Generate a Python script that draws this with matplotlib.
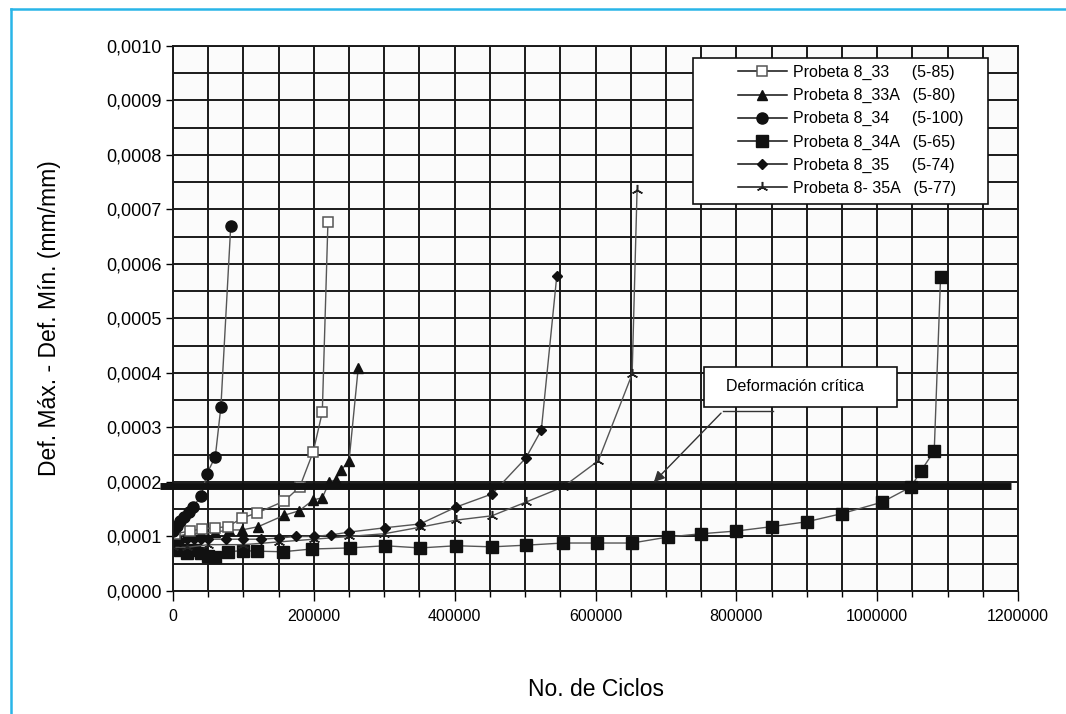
import matplotlib
matplotlib.use('Agg')
import matplotlib.pyplot as plt
from matplotlib import font_manager
from matplotlib.ticker import MultipleLocator, FuncFormatter
from matplotlib.lines import Line2D
from matplotlib.patches import Rectangle

# Ciclos y deformacion (Def. max - Def. min) de cada probeta
x_8_33 = [3000, 24000, 41000, 60000, 78000, 98000, 119000, 158000, 180000, 199000, 212000, 220000]
y_8_33 = [0.000105, 0.000110, 0.000114, 0.000116, 0.000118, 0.000134, 0.000143, 0.000165, 0.000191,
          0.000255, 0.000328, 0.000677]

x_8_33A = [3000, 20000, 40000, 60000, 80000, 98000, 121000, 158000, 179000, 199000, 212000,
           222000, 231000, 239000, 250000, 263000]
y_8_33A = [0.000100, 0.000104, 0.000106, 0.000108, 0.000112, 0.000112, 0.000118, 0.000139, 0.000147,
           0.000167, 0.000171, 0.000200, 0.000204, 0.000222, 0.000239, 0.000409]

x_8_34 = [0, 2000, 5000, 10000, 16000, 22000, 28000, 40000, 48000, 60000, 68000, 82000]
y_8_34 = [0.000110, 0.000115, 0.000120, 0.000128, 0.000135, 0.000145, 0.000154, 0.000174, 0.000215,
          0.000246, 0.000338, 0.000670]

x_8_34A = [0, 10000, 20000, 30000, 40000, 50000, 60000, 78000, 99000, 119000, 156000, 197000,
           251000, 301000, 351000, 402000, 453000, 501000, 554000, 602000, 652000, 703000,
           750000, 800000, 850000, 900000, 950000, 1007000, 1048000, 1062000, 1081000, 1090000]
y_8_34A = [0.000080, 0.000075, 0.000070, 0.000075, 0.000070, 0.000065, 0.000062, 0.000072, 0.000074,
           0.000073, 0.000072, 0.000077, 0.000079, 0.000083, 0.000079, 0.000083, 0.000081, 0.000084,
           0.000088, 0.000088, 0.000088, 0.000099, 0.000105, 0.000110, 0.000118, 0.000127,
           0.000142, 0.000163, 0.000191, 0.000220, 0.000257, 0.000576]

x_8_35 = [0, 10000, 20000, 30000, 40000, 50000, 75000, 100000, 125000, 150000, 175000, 200000,
          225000, 250000, 301000, 351000, 402000, 453000, 501000, 523000, 545000]
y_8_35 = [0.000090, 0.000092, 0.000095, 0.000095, 0.000095, 0.000095, 0.000095, 0.000095, 0.000095,
          0.000097, 0.000100, 0.000100, 0.000103, 0.000108, 0.000116, 0.000123, 0.000154, 0.000178,
          0.000244, 0.000295, 0.000578]

x_8_35A = [0, 20000, 50000, 100000, 150000, 200000, 250000, 300000, 351000, 402000, 453000,
           501000, 554000, 604000, 652000, 659000]
y_8_35A = [0.000080, 0.000080, 0.000085, 0.000085, 0.000090, 0.000095, 0.000100, 0.000105, 0.000117,
           0.000130, 0.000138, 0.000163, 0.000191, 0.000239, 0.000398, 0.000736]

labels = ['Probeta 8_33     (5-85)', 'Probeta 8_33A   (5-80)', 'Probeta 8_34     (5-100)',
          'Probeta 8_34A   (5-65)', 'Probeta 8_35     (5-74)', 'Probeta 8- 35A   (5-77)']

critical_def = 0.000192

# estilo de marcador de cada probeta, en el orden de labels
marker_styles = [
    dict(marker='s', markersize=7, markerfacecolor='white', markeredgecolor='#555555',
         markeredgewidth=1.1),
    dict(marker='^', markersize=7.5, markerfacecolor='#111111', markeredgecolor='#111111'),
    dict(marker='o', markersize=8, markerfacecolor='#111111', markeredgecolor='#111111'),
    dict(marker='s', markersize=9, markerfacecolor='#111111', markeredgecolor='#111111'),
    dict(marker='D', markersize=5, markerfacecolor='#111111', markeredgecolor='#111111'),
    dict(marker=(3, 2, 0), markersize=8, markeredgewidth=1.1, markeredgecolor='#222222'),
]


def pick_font():
    names = {f.name for f in font_manager.fontManager.ttflist}
    return 'Liberation Sans' if 'Liberation Sans' in names else 'DejaVu Sans'


def plot_chart():
    plt.rcParams['font.family'] = [pick_font(), 'DejaVu Sans']

    fig = plt.figure(figsize=(10.66, 7.14), dpi=100)
    ax = fig.add_axes([0.1623, 0.1723, 0.7927, 0.7633])
    ax.set_facecolor('#fbfbfb')

    series = [(x_8_33, y_8_33), (x_8_33A, y_8_33A), (x_8_34, y_8_34),
              (x_8_34A, y_8_34A), (x_8_35, y_8_35), (x_8_35A, y_8_35A)]
    draw_order = [3, 5, 4, 1, 0, 2]
    for i in draw_order:
        xs, ys = series[i]
        ax.plot(xs, ys, color='#555555', linewidth=1.0, **marker_styles[i])

    # Deformacion critica
    ax.plot([-18000, 1190000], [critical_def, critical_def], color='#111111',
            linewidth=5, clip_on=False, zorder=4, solid_capstyle='butt')

    ax.set_xlim(0, 1200000)
    ax.set_ylim(0, 0.0010)
    ax.xaxis.set_major_locator(MultipleLocator(200000))
    ax.xaxis.set_minor_locator(MultipleLocator(50000))
    ax.yaxis.set_major_locator(MultipleLocator(0.0001))
    ax.yaxis.set_minor_locator(MultipleLocator(0.00005))
    ax.yaxis.set_major_formatter(FuncFormatter(lambda v, p: f'{v:.4f}'.replace('.', ',')))
    ax.xaxis.set_major_formatter(FuncFormatter(lambda v, p: f'{v:.0f}'))
    ax.grid(True, which='both', color='#1a1a1a', linewidth=1.4)
    ax.set_axisbelow(True)
    ax.tick_params(axis='x', which='major', length=7, width=1, pad=6, labelsize=11.5)
    ax.tick_params(axis='x', which='minor', length=4, width=1)
    ax.tick_params(axis='y', which='major', length=5, width=1, pad=3, labelsize=13)
    ax.tick_params(axis='y', which='minor', length=0)
    for sp in ax.spines.values():
        sp.set_color('#1a1a1a')
        sp.set_linewidth(1.4)

    ax.set_xlabel('No. de Ciclos', fontsize=16.5, labelpad=39)
    ax.set_ylabel('Def. Máx. - Def. Mín. (mm/mm)', fontsize=16.5, labelpad=33)

    # Leyenda: marco propio y entradas sin marco
    ax.add_patch(Rectangle((0.6154, 0.7101), 0.3491, 0.2679, transform=ax.transAxes,
                           facecolor='white', edgecolor='#111111', linewidth=1.2,
                           zorder=6, clip_on=False))
    proxies = [Line2D([], [], color='#111111', linewidth=1.1, **st) for st in marker_styles]
    leg = ax.legend(proxies, labels, loc='upper left', bbox_to_anchor=(0.6686, 0.965),
                    borderaxespad=0, borderpad=0, fontsize=11.5, frameon=False,
                    handlelength=3.06, labelspacing=0.5, handletextpad=0.37)
    leg.set_zorder(7)

    # Caja de la anotacion
    ax.add_patch(Rectangle((754000, 0.000338), 274000, 0.000073, facecolor='white',
                           edgecolor='#111111', linewidth=1.2, zorder=6))
    ax.text(883000, 0.000376, 'Deformación crítica', fontsize=11.5, ha='center',
            va='center', zorder=7)
    ax.plot([781000, 852000], [0.000330, 0.000330], color='#333333', linewidth=1, zorder=5)
    ax.annotate('', xy=(680000, 0.000196), xytext=(781000, 0.000330), zorder=5,
                arrowprops=dict(arrowstyle='-|>', color='#333333', linewidth=1,
                                mutation_scale=16))

    # Marco azul de la pagina
    fig.add_artist(Line2D([0.0103, 1.0], [0.9874, 0.9874], color='#29b5e8', linewidth=1.8,
                          transform=fig.transFigure))
    fig.add_artist(Line2D([0.0103, 0.0103], [0.0, 0.9874], color='#29b5e8', linewidth=1.8,
                          transform=fig.transFigure))

    fig.savefig('out.png', dpi=100, facecolor='white')


def main():
    plot_chart()


if __name__ == "__main__":
    main()
